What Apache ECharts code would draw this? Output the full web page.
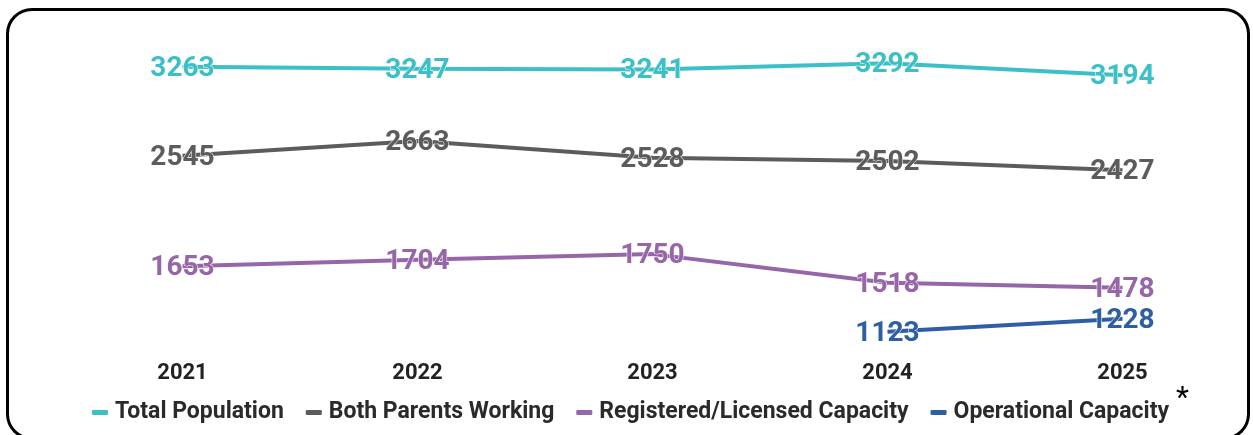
<!DOCTYPE html>
<html>
<head>
<meta charset="utf-8">
<script src="https://cdn.jsdelivr.net/npm/echarts@6/dist/echarts.min.js"></script>
<style>
  html, body { margin: 0; padding: 0; background: #fff; overflow: hidden; }
  #frame {
    position: absolute; left: 6px; top: 8px; width: 1244px; height: 432px;
    box-sizing: border-box; border: 3px solid #000; border-radius: 26px;
  }
  #chart { position: absolute; left: 0; top: 0; width: 1253px; height: 435px; }
</style>
</head>
<body>
<div id="frame"></div>
<div id="chart"></div>
<script>
// years on the x axis
const years = ['2021', '2022', '2023', '2024', '2025']
// values per series
const totalPopulation = [3263, 3247, 3241, 3292, 3194]
const bothParentsWorking = [2545, 2663, 2528, 2502, 2427]
const registeredCapacity = [1653, 1704, 1750, 1518, 1478]
const operationalCapacity = [null, null, null, 1123, 1228]

const seriesNames = ['Total Population', 'Both Parents Working', 'Registered/Licensed Capacity', 'Operational Capacity']
const colors = ['#3dbfc8', '#5c5c5c', '#9766a8', '#2e5fa4']

const makeSeries = (name, data, color) => ({
    name,
    type: 'line',
    data,
    symbol: 'circle',
    symbolSize: 0,
    lineStyle: { width: 4, color },
    itemStyle: { color },
    label: {
        show: true,
        position: 'inside',
        offset: [0, 2],
        color,
        fontFamily: 'Roboto',
        fontWeight: 'bold',
        fontSize: 28,
        textBorderColor: '#fff',
        textBorderWidth: 1
    },
    emphasis: { disabled: true },
    animation: false
})

const chart = echarts.init(document.getElementById('chart'), null, { renderer: 'canvas' })
chart.setOption({
    color: colors,
    grid: { left: 65, right: 13, top: 25, height: 322 },
    xAxis: {
        type: 'category',
        data: years,
        boundaryGap: true,
        axisLine: { show: false },
        axisTick: { show: false },
        axisLabel: {
            margin: 15,
            color: '#222',
            fontFamily: 'Roboto',
            fontWeight: 'bold',
            fontSize: 22
        }
    },
    yAxis: {
        type: 'value',
        min: 1000,
        max: 3600,
        show: false,
        splitLine: { show: false }
    },
    legend: {
        left: 87,
        top: 396,
        icon: 'roundRect',
        itemWidth: 16,
        itemHeight: 5,
        itemGap: 22,
        textStyle: {
            color: '#2a2a2a',
            fontFamily: 'Roboto',
            fontWeight: 'bold',
            fontSize: 23,
            padding: [0, 0, 0, 2]
        },
        data: seriesNames
    },
    graphic: [{
        type: 'text',
        left: 1176,
        top: 384,
        style: { text: '*', fill: '#000', font: '30px Roboto' }
    }],
    series: [
        makeSeries(seriesNames[0], totalPopulation, colors[0]),
        makeSeries(seriesNames[1], bothParentsWorking, colors[1]),
        makeSeries(seriesNames[2], registeredCapacity, colors[2]),
        makeSeries(seriesNames[3], operationalCapacity, colors[3])
    ]
})
</script>
</body>
</html>
